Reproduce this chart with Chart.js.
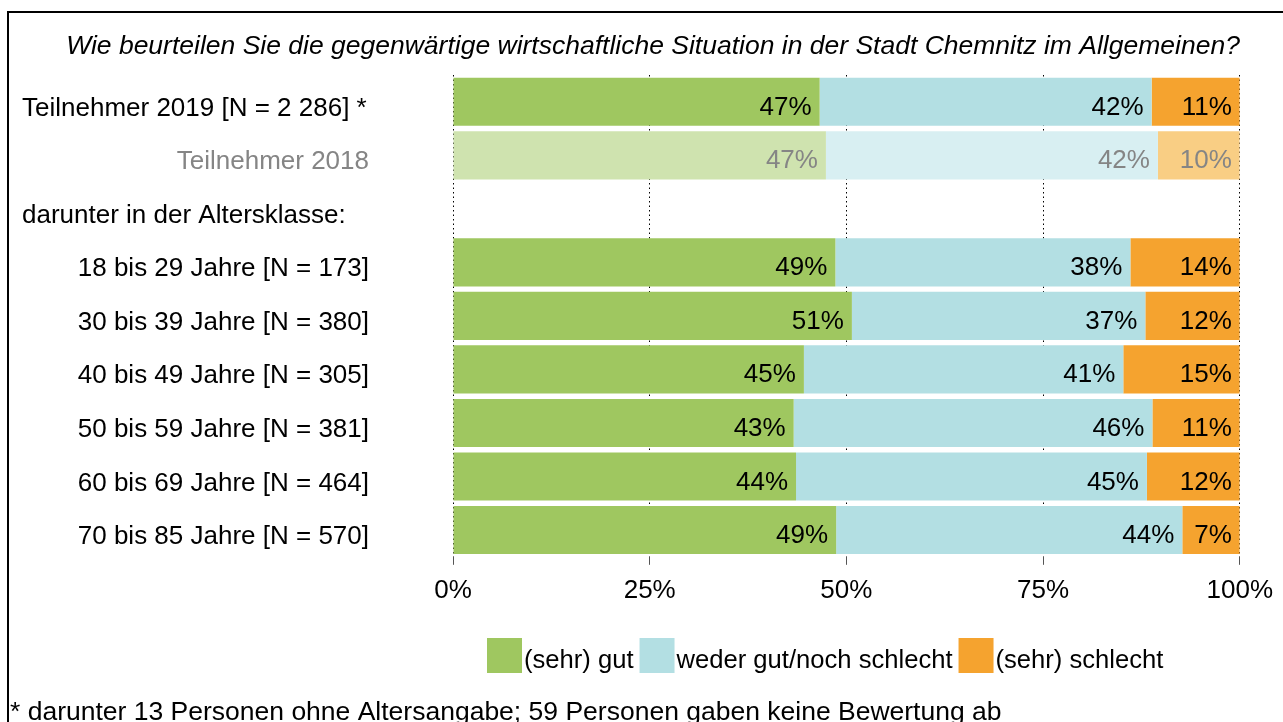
<!DOCTYPE html>
<html lang="de">
<head>
<meta charset="utf-8">
<title>Wirtschaftliche Situation Chemnitz</title>
<script src="https://cdn.jsdelivr.net/npm/chart.js@4.4.1/dist/chart.umd.min.js"></script>
<style>
    html, body { margin: 0; padding: 0; background: #fff; }
    #wrap { width: 1283px; height: 722px; }
</style>
</head>
<body>
<div id="wrap"><canvas id="situationChart" width="1283" height="722"></canvas></div>
<script>
const question = "Wie beurteilen Sie die gegenwärtige wirtschaftliche Situation in der Stadt Chemnitz im Allgemeinen?";
const footnote = "* darunter 13 Personen ohne Altersangabe; 59 Personen gaben keine Bewertung ab";

const categories = [
    "Teilnehmer 2019 [N = 2 286] *",
    "Teilnehmer 2018",
    "darunter in der Altersklasse:",
    "18 bis 29 Jahre [N = 173]",
    "30 bis 39 Jahre [N = 380]",
    "40 bis 49 Jahre [N = 305]",
    "50 bis 59 Jahre [N = 381]",
    "60 bis 69 Jahre [N = 464]",
    "70 bis 85 Jahre [N = 570]"
];
const seriesNames = ["(sehr) gut", "weder gut/noch schlecht", "(sehr) schlecht"];

// shares in percent
const gut      = [46.6, 47.4, null, 48.6, 50.7, 44.6, 43.3, 43.6, 48.7];
const weder    = [42.2, 42.2, null, 37.5, 37.3, 40.6, 45.6, 44.6, 44.0];
const schlecht = [11.2, 10.4, null, 13.9, 12.0, 14.8, 11.1, 11.8, 7.3];

const xTicks = [0, 25, 50, 75, 100];

const colors = ["#9FC760", "#B3DFE3", "#F5A32F"];
const fadedColors = ["#CFE3AF", "#D8EFF2", "#F9CE84"];
const greyText = "#858585";
const FONT = "'Liberation Sans', Arial, sans-serif";
const fadedRow = 1;     // previous year is shown pale
const headerRow = 2;    // "darunter ..." has no bar

function barColor(i) {
    return ctx => ctx.dataIndex === fadedRow ? fadedColors[i] : colors[i];
}

// frame, question and footnote
const framePlugin = {
    id: "frame",
    beforeDraw(chart) {
        const c = chart.ctx;
        c.save();
        c.strokeStyle = "#000";
        c.lineWidth = 2;
        c.beginPath();
        c.moveTo(8, 722);
        c.lineTo(8, 12);
        c.lineTo(1283, 12);
        c.stroke();

        c.fillStyle = "#000";
        c.font = "italic 26.5px " + FONT;
        c.textAlign = "center";
        c.textBaseline = "alphabetic";
        c.fillText(question, 653, 54);

        c.font = "26.5px " + FONT;
        c.textAlign = "left";
        c.fillText(footnote, 10, 720);
        c.restore();
    }
};

// category labels on the left
const rowLabelPlugin = {
    id: "rowLabels",
    afterDraw(chart) {
        const c = chart.ctx;
        const y = chart.scales.y;
        c.save();
        c.font = "26px " + FONT;
        c.textBaseline = "alphabetic";
        categories.forEach((label, i) => {
            const py = y.getPixelForValue(i) + 14;
            c.fillStyle = i === fadedRow ? greyText : "#000";
            if (i === 0 || i === headerRow) {
                c.textAlign = "left";
                c.fillText(label, 22, py);
            } else {
                c.textAlign = "right";
                c.fillText(label, 369, py);
            }
        });
        c.restore();
    }
};

// percent labels at the right end of each segment
const valueLabelPlugin = {
    id: "valueLabels",
    afterDatasetsDraw(chart) {
        const c = chart.ctx;
        c.save();
        c.font = "26px " + FONT;
        c.textAlign = "right";
        c.textBaseline = "alphabetic";
        chart.data.datasets.forEach((ds, di) => {
            const meta = chart.getDatasetMeta(di);
            meta.data.forEach((bar, i) => {
                const v = ds.data[i];
                if (v === null) return;
                c.fillStyle = i === fadedRow ? greyText : "#000";
                c.fillText(Math.round(v) + "%", bar.x - 8, bar.y + 13);
            });
        });
        c.restore();
    }
};

// legend drawn by hand: boxes sit right next to their text
const legendPlugin = {
    id: "customLegend",
    afterDraw(chart) {
        const c = chart.ctx;
        c.save();
        c.font = "25.6px " + FONT;
        c.textAlign = "left";
        c.textBaseline = "alphabetic";
        let x = 487;
        seriesNames.forEach((name, i) => {
            c.fillStyle = colors[i];
            c.fillRect(x, 638, 35, 35);
            x += 37;
            c.fillStyle = "#000";
            c.fillText(name, x, 668);
            x += c.measureText(name).width + 6;
        });
        c.restore();
    }
};

new Chart(document.getElementById("situationChart"), {
    type: "bar",
    data: {
        labels: categories,
        datasets: [
            { label: seriesNames[0], data: gut, backgroundColor: barColor(0) },
            { label: seriesNames[1], data: weder, backgroundColor: barColor(1) },
            { label: seriesNames[2], data: schlecht, backgroundColor: barColor(2) }
        ]
    },
    options: {
        indexAxis: "y",
        responsive: false,
        animation: false,
        events: [],
        categoryPercentage: 0.9,
        barPercentage: 1.0,
        borderWidth: 0,
        layout: {
            padding: { left: 445, right: 42, top: 75, bottom: 106 }
        },
        plugins: {
            legend: { display: false },
            tooltip: { enabled: false },
            title: { display: false }
        },
        scales: {
            x: {
                stacked: true,
                min: 0,
                max: 100,
                afterBuildTicks: axis => {
                    axis.ticks = xTicks.map(v => ({ value: v }));
                },
                ticks: {
                    callback: v => v + "%",
                    color: "#000",
                    padding: 10,
                    maxRotation: 0,
                    font: { family: FONT, size: 26 }
                },
                grid: {
                    color: "#000",
                    lineWidth: 1,
                    tickLength: 8,
                    tickColor: "#555",
                    tickBorderDash: []
                },
                border: { display: false, dash: [1.5, 3] }
            },
            y: {
                stacked: true,
                ticks: { display: false },
                grid: { display: false },
                border: { display: false }
            }
        }
    },
    plugins: [framePlugin, rowLabelPlugin, valueLabelPlugin, legendPlugin]
});
</script>
</body>
</html>
